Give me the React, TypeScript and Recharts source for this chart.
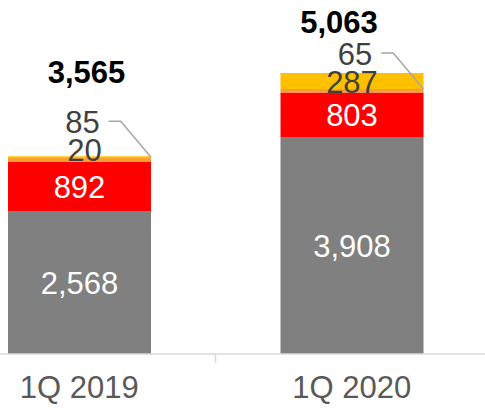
import { Bar, BarChart, LabelList, XAxis, YAxis } from "recharts";

const quarters = ["1Q 2019", "1Q 2020"];
const baseValues = [2568, 3908];
const redValues = [892, 803];
const orangeValues = [85, 65];
const yellowValues = [20, 287];
const totals = [3565, 5063];

const FONT = '"Liberation Sans", Arial, sans-serif';
const FS = 31;

// hand placement of the total labels, relative to the top of each stack
const totalNudge = [
    { dx: 7, dy: -84 },
    { dx: -13, dy: -51 },
];

const data = quarters.map((q, i) => ({
    name: q,
    base: baseValues[i],
    red: redValues[i],
    orange: orangeValues[i],
    yellow: yellowValues[i],
}));

const fmt = (v: number) => v.toLocaleString("en-US");

const centerLabel = (props: any) => {
    const { x, y, width, height, value } = props;
    return (
        <text
            x={x + width / 2}
            y={y + height / 2 + FS * 0.36}
            textAnchor="middle"
            fill="#ffffff"
            fontSize={FS}
            fontFamily={FONT}
        >
            {fmt(value)}
        </text>
    );
};

// small orange segment: label up above with a leader line to the bar corner
const orangeLabel = (props: any) => {
    const { x, y, width, value } = props;
    const cx = x + width / 2 + 3;
    const cy = y - 35;
    const textW = String(value).length * FS * 0.556;
    const lx = cx + textW / 2 + 9;
    return (
        <g>
            <text
                x={cx}
                y={cy + FS * 0.36}
                textAnchor="middle"
                fill="#404040"
                fontSize={FS}
                fontFamily={FONT}
            >
                {fmt(value)}
            </text>
            <polyline
                points={`${lx},${cy - 1} ${lx + 12},${cy - 1} ${x + width},${y}`}
                fill="none"
                stroke="#A6A6A6"
                strokeWidth={1.5}
            />
        </g>
    );
};

const yellowLabel = (props: any) => {
    const { x, y, width, height, value, index } = props;
    const orangeTop = y + height;
    const cx = x + width / 2 + (index === 0 ? 5 : 0);
    const cy = orangeTop - 7.5;
    const n = totalNudge[index];
    return (
        <g>
            <text
                x={cx}
                y={cy + FS * 0.36}
                textAnchor="middle"
                fill="#404040"
                fontSize={FS}
                fontFamily={FONT}
            >
                {fmt(value)}
            </text>
            <text
                x={x + width / 2 + n.dx}
                y={y + n.dy + FS * 0.36}
                textAnchor="middle"
                fill="#000000"
                fontSize={FS}
                fontWeight="bold"
                fontFamily={FONT}
            >
                {fmt(totals[index])}
            </text>
        </g>
    );
};

const QuarterTick = (props: any) => {
    const { x, y, payload, index } = props;
    return (
        <g>
            {index === 0 && (
                <line
                    x1={x + payload.offset}
                    x2={x + payload.offset}
                    y1={y}
                    y2={y + 9}
                    stroke="#D9D9D9"
                    strokeWidth={1.5}
                />
            )}
            <text
                x={x}
                y={y + 44}
                textAnchor="middle"
                fill="#595959"
                fontSize={FS}
                fontFamily={FONT}
            >
                {payload.value}
            </text>
        </g>
    );
};

export default function App() {
    return (
        <div style={{ position: "absolute", left: 0, top: 0, width: 485, height: 409, background: "#fff" }}>
            <BarChart
                width={485}
                height={409}
                data={data}
                margin={{ top: 21, right: -3, left: -57, bottom: 0 }}
                barSize={143}
            >
                <XAxis
                    dataKey="name"
                    height={55}
                    axisLine={{ stroke: "#D9D9D9", strokeWidth: 1.5 }}
                    tickLine={false}
                    tickSize={0}
                    tickMargin={0}
                    tick={<QuarterTick />}
                    interval={0}
                />
                <YAxis hide domain={[0, 6000]} />
                <Bar dataKey="base" stackId="s" fill="#808080" isAnimationActive={false}>
                    <LabelList dataKey="base" content={centerLabel} />
                </Bar>
                <Bar dataKey="red" stackId="s" fill="#FF0000" isAnimationActive={false}>
                    <LabelList dataKey="red" content={centerLabel} />
                </Bar>
                <Bar dataKey="orange" stackId="s" fill="#F7A030" isAnimationActive={false}>
                    <LabelList dataKey="orange" content={orangeLabel} />
                </Bar>
                <Bar dataKey="yellow" stackId="s" fill="#FFC000" isAnimationActive={false}>
                    <LabelList dataKey="yellow" content={yellowLabel} />
                </Bar>
            </BarChart>
        </div>
    );
}
